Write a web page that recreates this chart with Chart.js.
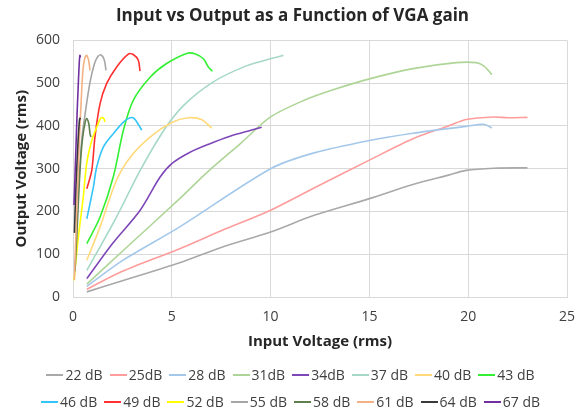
<!DOCTYPE html>
<html>
<head>
<meta charset="utf-8">
<script src="https://cdn.jsdelivr.net/npm/chart.js@4"></script>
<style>
   body { margin: 0; background: #fff; }
   #wrap { position: relative; width: 581px; height: 416px; }
   #legend { position: absolute; left: 0; top: 361px; width: 581px; font-family: "Open Sans", sans-serif; font-size: 14px; color: #404040; }
   .row { display: flex; justify-content: center; height: 27px; align-items: center; }
   .item { display: flex; align-items: center; margin: 0 3.5px; white-space: nowrap; }
   .swatch { display: inline-block; width: 17px; height: 2px; margin-right: 2px; }
</style>
</head>
<body>
<div id="wrap">
   <canvas id="vgaChart" width="581" height="416"></canvas>
   <div id="legend"></div>
</div>
<script>
// gain labels, as written in the legend
const gains = ['22 dB', '25dB', '28 dB', '31dB', '34dB', '37 dB', '40 dB', '43 dB',
               '46 dB', '49 dB', '52 dB', '55 dB', '58 dB', '61 dB', '64 dB', '67 dB'];
const colors = ['#A9A9A9', '#FF9C9C', '#A4C8EA', '#AED597', '#7E47B8', '#A6D8C7', '#FFD97A', '#33F033',
                '#33C4FA', '#FF3030', '#FFFF00', '#A6A6A6', '#5F7F4E', '#F4B183', '#3A3A3A', '#7030A0'];

const xTicks = [0, 5, 10, 15, 20, 25];
const yTicks = [0, 100, 200, 300, 400, 500, 600];

// [input rms, output rms]
const g22 = [[0.7,12],[2.5,38],[5.4,80],[7.5,116],[10,152],[12.2,191],[15,230],[17.2,263],[19,285],[19.9,296],[21.3,301],[23,302]];
const g25 = [[0.7,18],[2.5,60],[5.4,113],[7.5,155],[10,203],[12.5,262],[15,320],[17.2,370],[19,400],[19.9,415],[21.3,421],[22,419],[23,420]];
const g28 = [[0.7,25],[2.5,85],[5.4,164],[10,300],[12.2,337],[15,366],[17.2,383],[19.9,399],[20.8,404],[21.2,395]];
const g31 = [[0.7,30],[2.5,107],[5.4,230],[6.8,292],[8.5,360],[10,421],[11.7,460],[13.2,485],[15,510],[17.2,534],[19.4,548],[20.4,548],[20.8,540],[21.2,520]];
const g34 = [[0.7,43],[2,125],[3.4,203],[4.4,280],[5,312],[5.9,338],[6.9,358],[7.95,376],[9,390],[9.55,397]];
const g37 = [[0.7,62],[2.2,187],[3.4,296],[4.6,390],[5.6,448],[7.1,503],[8.8,541],[10,557],[10.4,562],[10.65,565]];
const g40 = [[0.7,86],[1.37,164],[2.2,273],[2.9,327],[3.9,374],[5,408],[5.84,419],[6.5,415],[7.02,395]];
const g43 = [[0.7,125],[1.37,187],[2.04,281],[2.55,390],[3.05,460],[3.9,514],[4.74,546],[5.8,570],[6.2,568],[6.6,557],[6.85,538],[7.05,528]];
const g46 = [[0.7,183],[1.03,257],[1.2,304],[1.54,351],[2.04,382],[2.55,409],[2.89,419],[3.1,417],[3.39,397],[3.48,390]];
const g49 = [[0.7,253],[0.95,296],[1.11,374],[1.37,452],[1.7,499],[2.21,538],[2.8,568],[3.05,567],[3.31,553],[3.39,528]];
const g52 = [[0.05,39],[0.27,140],[0.52,234],[0.69,312],[0.95,366],[1.2,397],[1.42,419],[1.55,418],[1.62,409]];
const g55 = [[0.25,230],[0.44,366],[0.65,440],[0.86,502],[1.08,545],[1.25,562],[1.42,566],[1.58,555],[1.67,530]];
const g58 = [[0.1,60],[0.2,150],[0.3,250],[0.4,330],[0.49,374],[0.6,405],[0.69,417],[0.8,405],[0.86,382],[0.91,374]];
const g61 = [[0.07,40],[0.15,150],[0.25,280],[0.35,400],[0.4,444],[0.49,522],[0.58,555],[0.69,565],[0.78,555],[0.83,541],[0.86,530]];
const g64 = [[0.07,150],[0.15,260],[0.25,360],[0.32,410],[0.35,418],[0.38,415]];
const g67 = [[0.05,215],[0.1,280],[0.15,350],[0.2,420],[0.27,500],[0.32,550],[0.35,565],[0.38,560]];

const series = [g22, g25, g28, g31, g34, g37, g40, g43, g46, g49, g52, g55, g58, g61, g64, g67];

const font = "'Open Sans', sans-serif";
const textColor = '#404040';
const gridColor = '#D9D9D9';

const datasets = series.map((pts, i) => ({
   label: gains[i],
   data: pts.map(p => ({ x: p[0], y: p[1] })),
   borderColor: colors[i],
   backgroundColor: colors[i],
   borderWidth: 1.6,
   showLine: true,
   pointRadius: 0,
   tension: 0.3,
   order: series.length - i
}));

const ctx = document.getElementById('vgaChart').getContext('2d');
new Chart(ctx, {
   type: 'scatter',
   data: { datasets: datasets },
   options: {
      responsive: false,
      animation: false,
      layout: { padding: { left: 4, right: 0, top: 0, bottom: 65 } },
      plugins: {
         legend: { display: false },
         tooltip: { enabled: false },
         title: {
            display: true,
            text: 'Input vs Output as a Function of VGA gain',
            color: '#262626',
            font: { family: font, size: 17, weight: 'bold' },
            padding: { top: 6, bottom: 14 }
         }
      },
      scales: {
         x: {
            type: 'linear',
            min: 0, max: 25,
            afterBuildTicks: axis => { axis.ticks = xTicks.map(v => ({ value: v })); },
            afterFit: axis => { axis.height = 54; axis.paddingRight = 14; },
            grid: { color: gridColor, drawTicks: false },
            border: { color: gridColor },
            ticks: { color: textColor, font: { family: font, size: 14 }, padding: 12 },
            title: {
               display: true,
               text: 'Input Voltage (rms)',
               color: '#262626',
               font: { family: font, size: 15, weight: 'bold' },
               padding: { top: 0, bottom: 0 }
            }
         },
         y: {
            min: 0, max: 600,
            afterBuildTicks: axis => { axis.ticks = yTicks.map(v => ({ value: v })); },
            afterFit: axis => { axis.width = 69; },
            grid: { color: gridColor, drawTicks: false },
            border: { color: gridColor },
            ticks: { color: textColor, font: { family: font, size: 14 }, padding: 13 },
            title: {
               display: true,
               text: 'Output Voltage (rms)',
               color: '#262626',
               font: { family: font, size: 15, weight: 'bold' },
               padding: { top: 9, bottom: 0 }
            }
         }
      }
   }
});

// legend in two rows of eight, like the original
const legend = document.getElementById('legend');
[0, 8].forEach(start => {
   const row = document.createElement('div');
   row.className = 'row';
   for (let i = start; i < start + 8; i++) {
      const item = document.createElement('span');
      item.className = 'item';
      const sw = document.createElement('span');
      sw.className = 'swatch';
      sw.style.background = colors[i];
      item.appendChild(sw);
      item.appendChild(document.createTextNode(gains[i]));
      row.appendChild(item);
   }
   legend.appendChild(row);
});
</script>
</body>
</html>
